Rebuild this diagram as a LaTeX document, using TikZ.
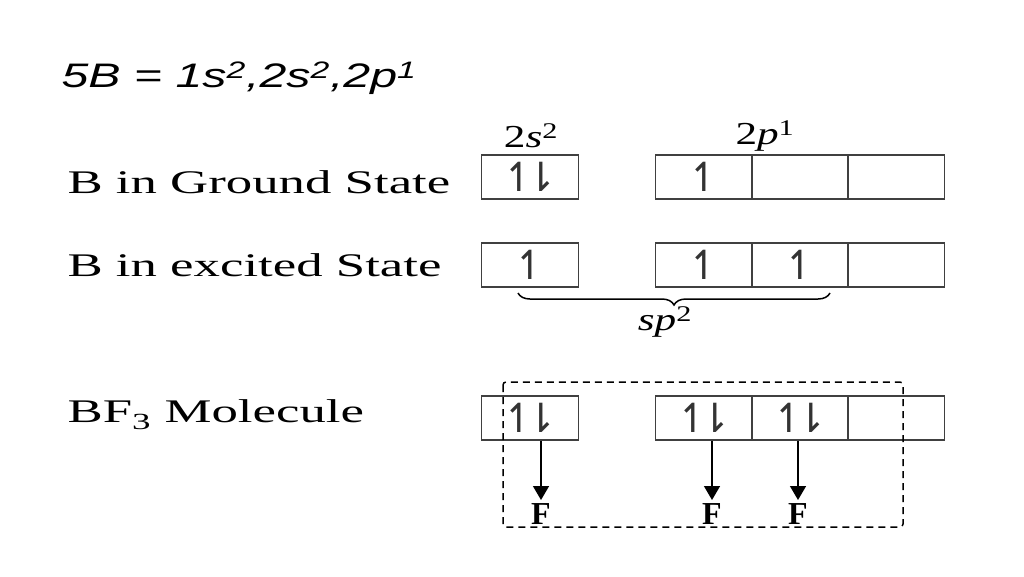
\documentclass[tikz,border=0pt]{standalone}
\usepackage{fontspec}
\setmainfont{Liberation Serif}
\newfontfamily\symf{DejaVu Sans}
\newfontfamily\titf{Liberation Sans}
\usetikzlibrary{decorations.pathreplacing,arrows.meta}
\newcommand{\ud}{↿\kern-0.3em⇂}
\newcommand{\wide}[1]{\scalebox{1.6}[1]{#1}}
\newcommand{\hw}[1]{\scalebox{1.35}[1]{#1}}
\begin{document}
\begin{tikzpicture}[x=1pt,y=-1pt,
  orb/.style={draw=black!75,line width=1.5pt,minimum width=97pt,minimum height=44pt,inner sep=0pt,font=\symf\fontsize{40}{40}\selectfont,text=black!80},
  lbl/.style={anchor=west,font=\fontsize{33}{33}\selectfont},
  hdr/.style={font=\fontsize{32}{32}\selectfont},
  fl/.style={font=\bfseries\fontsize{32}{32}\selectfont},
  bond/.style={line width=1.5pt,-{Triangle[width=16pt,length=14pt]}}]
\useasboundingbox (0,0) rectangle (1024,576);
\node[anchor=west,font=\titf\itshape\fontsize{34}{34}\selectfont] (t) at (58,78) {\scalebox{1.42}[1]{5B = 1s\textsuperscript{2},2s\textsuperscript{2},2p\textsuperscript{1}}};
\node[lbl] (l1) at (64,182) {\wide{B in Ground State}};
\node[lbl] (l2) at (64,265) {\wide{B in excited State}};
\node[lbl] (l3) at (64,415) {\wide{BF\textsubscript{3} Molecule}};
\node[hdr] (h1) at (531,136) {\hw{2\textit{s}\textsuperscript{2}}};
\node[hdr] (h2) at (765,136) {\hw{2\textit{p}\textsuperscript{1}}};
% row 1
\node[orb] (a1) at (530,177) {\ud};
\node[orb] (a2) at (704,177) {↿};
\node[orb] (a3) at (800,177) {};
\node[orb] (a4) at (896,177) {};
% row 2
\node[orb] (b1) at (530,265) {↿};
\node[orb] (b2) at (704,265) {↿};
\node[orb] (b3) at (800,265) {↿};
\node[orb] (b4) at (896,265) {};
% row 3
\node[orb] (c1) at (530,418) {\ud};
\node[orb] (c2) at (704,418) {\ud};
\node[orb] (c3) at (800,418) {\ud};
\node[orb] (c4) at (896,418) {};
\draw[decorate,decoration={brace,mirror,amplitude=12pt},line width=1.5pt] (518,293) -- (830,293);
\node[hdr] (sp) at (665,322) {\hw{\textit{sp}\textsuperscript{2}}};
\draw[line width=1.5pt,dash pattern=on 7pt off 5pt,rounded corners=3pt] (503,382) rectangle (903,527);
\node[fl] (f1) at (541,514) {F};
\node[fl] (f2) at (712,514) {F};
\node[fl] (f3) at (798,514) {F};
\draw[bond] (c1.south -| f1) -- (f1.north);
\draw[bond] (c2.south -| f2) -- (f2.north);
\draw[bond] (c3.south -| f3) -- (f3.north);
\end{tikzpicture}
\end{document}
